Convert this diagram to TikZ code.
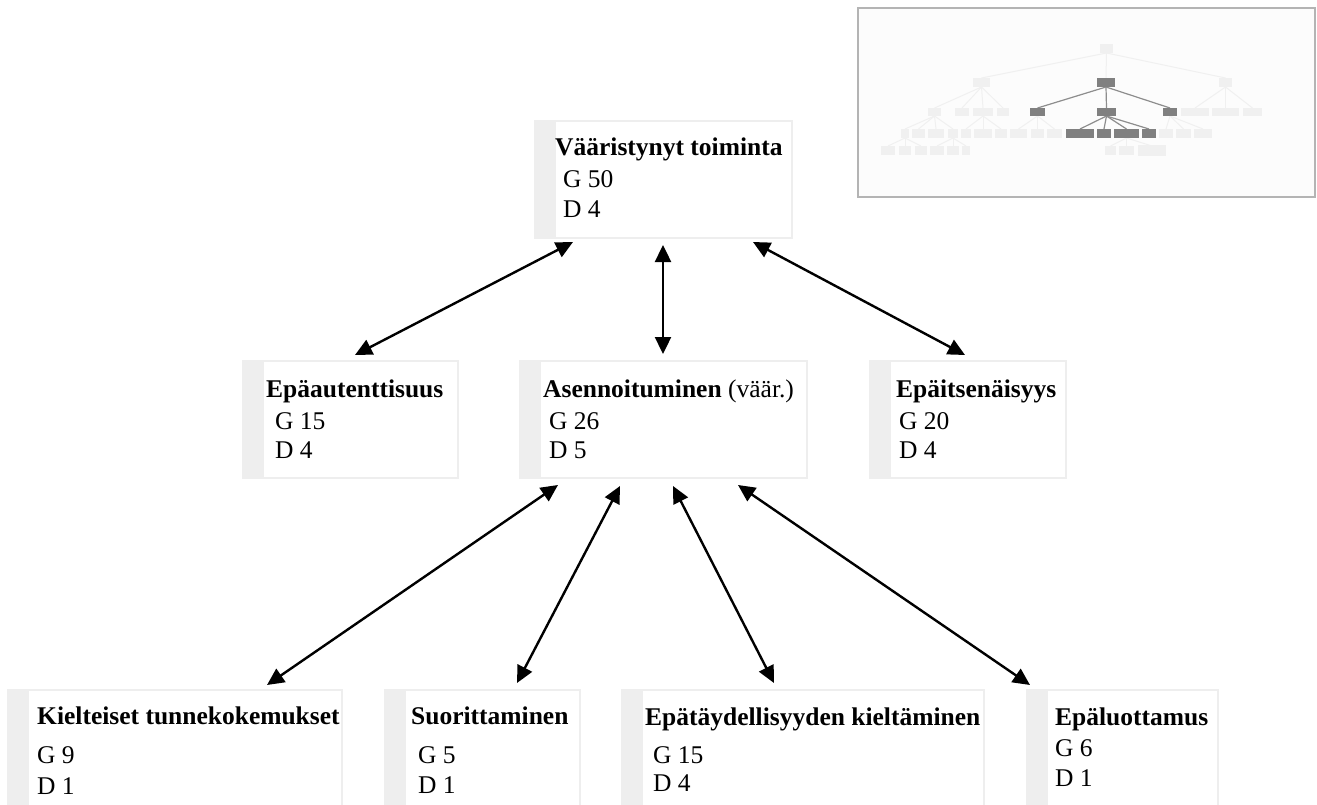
\documentclass[tikz,border=0pt]{standalone}
\usepackage{fontspec}
\setmainfont{Liberation Serif}
\usetikzlibrary{arrows.meta,calc}
\definecolor{boxline}{HTML}{EEEEEE}
\definecolor{stripc}{HTML}{EEEEEE}
\definecolor{mmlight}{HTML}{F0F0F0}
\definecolor{mmdark}{HTML}{808080}
\definecolor{mmframe}{HTML}{B4B4B4}
\definecolor{mmbg}{HTML}{FCFCFC}
\tikzset{
  box/.style={draw=boxline, line width=2pt, fill=white, anchor=north west, inner sep=0pt,
    path picture={\fill[stripc] (path picture bounding box.north west) rectangle ([xshift=21pt]path picture bounding box.south west);}},
  txt/.style={anchor=base west, inner sep=0pt, font=\fontsize{25.5pt}{30pt}\selectfont},
  arr/.style={line width=2.4pt, {Triangle[length=17pt,width=16pt]}-{Triangle[length=17pt,width=16pt]}},
  mml/.style={fill=mmlight},
  mmd/.style={fill=mmdark},
  mel/.style={draw=mmlight, line width=1pt},
  med/.style={draw=mmdark!90, line width=1.2pt},
}
\begin{document}
\begin{tikzpicture}[x=1pt,y=-1pt]
\useasboundingbox (0,0) rectangle (1317,805);
\clip (0,0) rectangle (1317,805);
\fill[white] (0,0) rectangle (1317,805);

% ---------- boxes ----------
\node[box, minimum width=257pt, minimum height=117pt] (top) at (534,120) {};
\node[box, minimum width=215pt, minimum height=117pt] (epa) at (242,360) {};
\node[box, minimum width=287pt, minimum height=117pt] (ase) at (519,360) {};
\node[box, minimum width=196pt, minimum height=117pt] (epi) at (869,360) {};
\node[box, minimum width=334pt, minimum height=140pt] (kie) at (7,689) {};
\node[box, minimum width=195pt, minimum height=140pt] (suo) at (384,689) {};
\node[box, minimum width=362pt, minimum height=140pt] (ept) at (621,689) {};
\node[box, minimum width=191pt, minimum height=140pt] (epl) at (1026,689) {};

% ---------- texts ----------
\node[txt] (topT) at (555,156) {\bfseries Vääristynyt toiminta};
\node[txt] (topG) at (563,188) {G 50};
\node[txt] (topD) at (563,218) {D 4};

\node[txt] (epaT) at (266,397) {\bfseries Epäautenttisuus};
\node[txt] (epaG) at (275,429) {G 15};
\node[txt] (epaD) at (275,458) {D 4};

\node[txt] (aseT) at (543,397) {\bfseries Asennoituminen\mdseries{} (väär.)};
\node[txt] (aseG) at (549,429) {G 26};
\node[txt] (aseD) at (549,458) {D 5};

\node[txt] (epiT) at (896,397) {\bfseries Epäitsenäisyys};
\node[txt] (epiG) at (899,429) {G 20};
\node[txt] (epiD) at (899,458) {D 4};

\node[txt] (kieT) at (37,724) {\bfseries Kielteiset tunnekokemukset};
\node[txt] (kieG) at (37,763) {G 9};
\node[txt] (kieD) at (37,794) {D 1};

\node[txt] (suoT) at (411,724) {\bfseries Suorittaminen};
\node[txt] (suoG) at (418,763) {G 5};
\node[txt] (suoD) at (418,793) {D 1};

\node[txt] (eptT) at (645,725) {\bfseries Epätäydellisyyden kieltäminen};
\node[txt] (eptG) at (653,763) {G 15};
\node[txt] (eptD) at (653,791) {D 4};

\node[txt] (eplT) at (1055,725) {\bfseries Epäluottamus};
\node[txt] (eplG) at (1055,756) {G 6};
\node[txt] (eplD) at (1055,786) {D 1};

% ---------- connectors ----------
\draw[arr] ($(top.south west)+(39,3)$) -- ($(epa.north west)+(113,-5)$);
\draw[arr] ($(top.south west)+(129,6)$) -- ($(ase.north west)+(144,-6)$);
\draw[arr] ($(top.south west)+(219,3)$) -- ($(epi.north west)+(96,-5)$);
\draw[arr] ($(ase.south west)+(39,6)$) -- ($(kie.north west)+(260,-4)$);
\draw[arr] ($(ase.south west)+(101,7)$) -- ($(suo.north west)+(133,-6)$);
\draw[arr] ($(ase.south west)+(154,7)$) -- ($(ept.north west)+(153,-6)$);
\draw[arr] ($(ase.south west)+(219,6)$) -- ($(epl.north west)+(4,-4)$);

% ---------- minimap ----------
\draw[draw=mmframe, fill=mmbg, line width=2.5pt] (858,8) rectangle (1315,197);
% light edges
\foreach \x in {981.5,1106,1225.5} \draw[mel] (1106.5,53) -- (\x,78);
\foreach \x in {934.5,962,983,1003} \draw[mel] (981.5,87) -- (\x,108);
\foreach \x in {1195,1225.5,1252.5} \draw[mel] (1225.5,87) -- (\x,108);
\foreach \x in {905,918.5,936,953} \draw[mel] (934.5,116) -- (\x,129);
\foreach \x in {966,983,1001} \draw[mel] (983,116) -- (\x,129);
\foreach \x in {1018.5,1037.5,1054.5} \draw[mel] (1037.5,116) -- (\x,129);
\foreach \x in {1166,1183.5,1203} \draw[mel] (1170,116) -- (\x,129);
\foreach \x in {888,905,921} \draw[mel] (905,138) -- (\x,146);
\foreach \x in {937,953,966} \draw[mel] (953,138) -- (\x,146);
\foreach \x in {1110.5,1126.5,1152} \draw[mel] (1126.5,138) -- (\x,146);
% dark edges
\foreach \x in {1037.5,1106.5,1170} \draw[med] (1106,87) -- (\x,108);
\foreach \x in {1080,1104,1126.5,1149} \draw[med] (1106.5,116) -- (\x,129);
% light nodes
\fill[mml] (1100,44) rectangle (1113,53);
\fill[mml] (973,78) rectangle (990,87);
\fill[mml] (1219,78) rectangle (1232,87);
\foreach \a/\b in {928/941,955/969,973/993,997/1009,1181/1209,1212/1239,1243/1262}
  \fill[mml] (\a,108) rectangle (\b,116);
\foreach \a/\b in {901/909,912/925,928/944,948/958,961/971,974/992,995/1007,1010/1027,1031/1044,1047/1062,1159/1173,1176/1191,1194/1212}
  \fill[mml] (\a,129) rectangle (\b,138);
\foreach \a/\b in {881/895,899/911,915/927,930/944,947/959,962/970,1105/1116,1119/1134}
  \fill[mml] (\a,146) rectangle (\b,155);
\fill[mml] (1138,145) rectangle (1166,156);
% dark nodes
\fill[mmd] (1097,78) rectangle (1115,87);
\foreach \a/\b in {1030/1045,1097/1116,1163/1177}
  \fill[mmd] (\a,108) rectangle (\b,116);
\foreach \a/\b in {1066/1094,1097/1111,1114/1139,1142/1156}
  \fill[mmd] (\a,129) rectangle (\b,138);
\end{tikzpicture}
\end{document}
